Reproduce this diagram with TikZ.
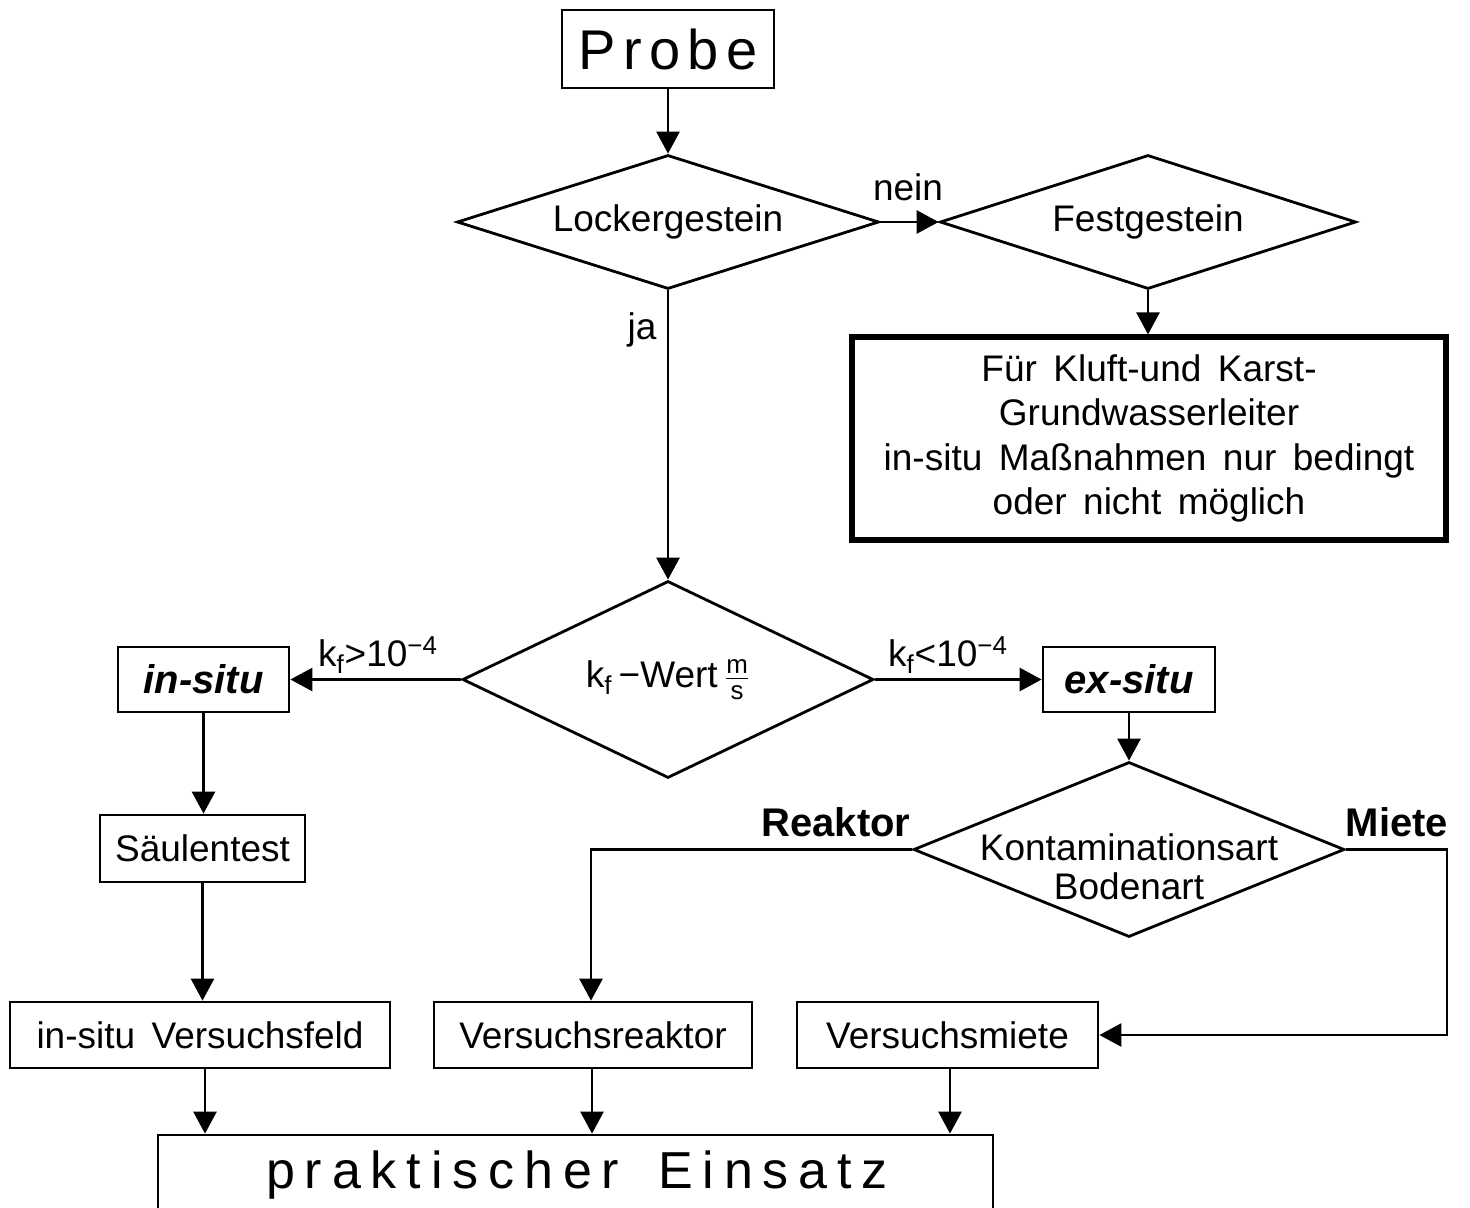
\documentclass[tikz,border=0pt]{standalone}
\usepackage{fontspec}
\usepackage{amsmath}
\setmainfont{Liberation Sans}[WordSpace=1.6]
\usetikzlibrary{shapes.geometric,arrows.meta}
\begin{document}
\begin{tikzpicture}[x=0.5pt,y=-0.5pt,
  every node/.style={font=\fontsize{18.5}{22.2}\selectfont},
  box/.style={draw,line width=1.4pt,inner sep=0pt,align=center},
  dia/.style={draw,diamond,line width=1.4pt,inner sep=0pt,aspect=3},
  arr/.style={line width=1.4pt,-{Triangle[length=11pt,width=11.5pt]}},
  lbl/.style={inner sep=0pt},
  bl/.style={inner sep=0pt,font=\fontsize{20}{24}\selectfont\bfseries}]
\useasboundingbox (0,0) rectangle (1470,1208);
\clip (0,0) rectangle (1470,1208);

% nodes
\node[box,minimum width=106pt,minimum height=39pt,
  font=\fontsize{28}{30}\selectfont\addfontfeature{LetterSpace=13}] (probe) at (668,49) {Probe};
\node[dia,minimum width=211pt,minimum height=67pt] (lock) at (668,222) {Lockergestein};
\node[dia,minimum width=208pt,minimum height=67pt] (fest) at (1148,222) {Festgestein};
\node[box,line width=2.6pt,minimum width=297pt,minimum height=101.5pt] (kluft) at (1149,438.5)
  {Für Kluft-und Karst-\\Grundwasserleiter\\in-situ Maßnahmen nur bedingt\\oder nicht möglich};
\node[dia,minimum width=205.5pt,minimum height=98.5pt] (kf) at (668,679.5)
  {k\textsubscript{f}\,−Wert\,$\frac{\text{m}}{\text{s}}$};
\node[box,minimum width=85.5pt,minimum height=32.5pt,
  font=\fontsize{20}{24}\selectfont\bfseries\itshape] (insitu) at (203.5,679.5) {in-situ};
\node[box,minimum width=86pt,minimum height=32.5pt,
  font=\fontsize{20}{24}\selectfont\bfseries\itshape] (exsitu) at (1129,679.5) {ex-situ};
\node[dia,minimum width=215.5pt,minimum height=87.5pt] (kont) at (1129,849.5) {};
\node[lbl,align=center,font=\fontsize{18.5}{19.5}\selectfont] (konttxt) at (1129,867) {Kontaminationsart\\Bodenart};
\node[box,minimum width=102.5pt,minimum height=33.5pt] (saeule) at (202.5,848.5) {Säulentest};
\node[box,minimum width=190pt,minimum height=33pt] (feld) at (200,1035) {in-situ Versuchsfeld};
\node[box,minimum width=159pt,minimum height=33pt] (reak) at (593,1035) {Versuchsreaktor};
\node[box,minimum width=150.5pt,minimum height=33pt] (miete) at (947.5,1035) {Versuchsmiete};
\node[box,minimum width=417.5pt,minimum height=60pt] (praxis) at (575.5,1195) {};
\node[lbl,font=\fontsize{26}{30}\selectfont\addfontfeature{LetterSpace=19}] (praxtxt) at (577,1175) {praktischer Einsatz};

% labels
\node[lbl] (nein) at (908,187) {nein};
\node[lbl] (ja) at (642,330) {ja};
\node[lbl] (gt) at (378,655) {k\textsubscript{f}>10\textsuperscript{−4}};
\node[lbl] (lt) at (948,655) {k\textsubscript{f}<10\textsuperscript{−4}};
\node[bl] (reaktor) at (836,822) {Reaktor};
\node[bl] (mietel) at (1397,822) {Miete};

% connectors
\draw[arr] (probe.south) -- (lock.north);
\draw[arr] (lock.east) -- (fest.west);
\draw[arr] (fest.south) -- (fest.south |- kluft.north);
\draw[arr] (lock.south) -- (kf.north);
\draw[arr] (kf.west) -- (insitu.east);
\draw[arr] (kf.east) -- (exsitu.west);
\draw[arr] (exsitu.south) -- (kont.north);
\draw[arr] (kont.west) -| ([xshift=-1pt]reak.north);
\draw[arr] (kont.east) -- ++(101,0) |- (miete.east);
\draw[arr] (insitu.south) -- (insitu.south |- saeule.north);
\draw[arr] (saeule.south) -- (saeule.south |- feld.north);
\draw[arr] ([xshift=2.5pt]feld.south) -- ([xshift=2.5pt]feld.south |- praxis.north);
\draw[arr] ([xshift=-0.5pt]reak.south) -- ([xshift=-0.5pt]reak.south |- praxis.north);
\draw[arr] ([xshift=1.25pt]miete.south) -- ([xshift=1.25pt]miete.south |- praxis.north);
\end{tikzpicture}
\end{document}
